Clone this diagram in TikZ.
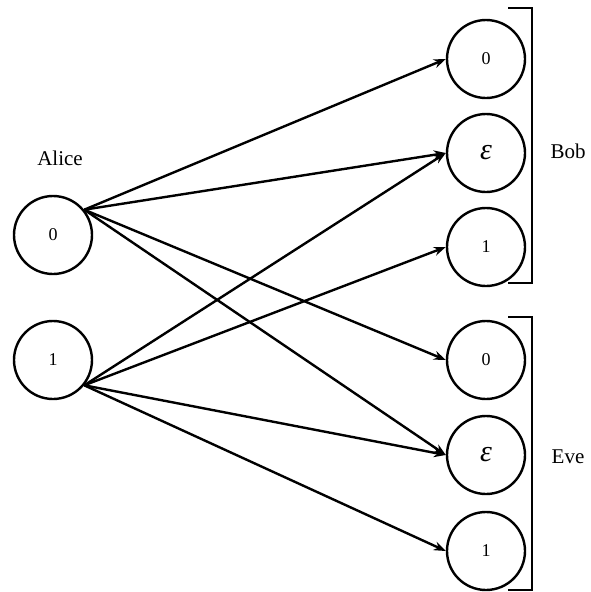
\documentclass[tikz,border=0pt]{standalone}
\usepackage{fontspec}
\setmainfont{Liberation Serif}
\usetikzlibrary{arrows.meta}
\begin{document}
\begin{tikzpicture}[x=1pt,y=-1pt,
  state/.style={circle,draw,line width=2.4pt,minimum size=78pt,inner sep=0pt,font=\fontsize{18}{18}\selectfont},
  eps/.style={font=\fontsize{30}{30}\selectfont\itshape},
  lbl/.style={font=\fontsize{21}{21}\selectfont},
  edge/.style={line width=2.4pt,-{Stealth[length=12pt,width=9pt]}},
  brk/.style={line width=2pt}]
\useasboundingbox (0,0) rectangle (591,592);
\node[state] (a0) at (53,235) {0};
\node[state] (a1) at (53,360) {1};
\node[lbl] (alice) at (60,158) {Alice};
\node[state] (b0) at (486,59) {0};
\node[state,eps] (be) at (486,153) {ε};
\node[state] (b1) at (486,247) {1};
\node[state] (e0) at (486,360) {0};
\node[state,eps] (ee) at (486,455) {ε};
\node[state] (e1) at (486,551) {1};
\node[lbl] (bob) at (568,151) {Bob};
\node[lbl] (eve) at (568,457) {Eve};
\coordinate (bt1) at (508,8);
\coordinate (bt2) at (532,8);
\coordinate (bb1) at (532,283);
\coordinate (bb2) at (508,283);
\coordinate (et1) at (508,317);
\coordinate (et2) at (532,317);
\coordinate (eb1) at (532,590);
\coordinate (eb2) at (508,590);
\draw[brk] (bt1) -- (bt2) -- (bb1) -- (bb2);
\draw[brk] (et1) -- (et2) -- (eb1) -- (eb2);
\draw[edge] (a0.39) -- (b0.west);
\draw[edge] (a0.39) -- (be.west);
\draw[edge] (a0.39) -- (e0.west);
\draw[edge] (a0.39) -- (ee.west);
\draw[edge] (a1.-39) -- (be.west);
\draw[edge] (a1.-39) -- (b1.west);
\draw[edge] (a1.-39) -- (ee.west);
\draw[edge] (a1.-39) -- (e1.west);
\end{tikzpicture}
\end{document}
